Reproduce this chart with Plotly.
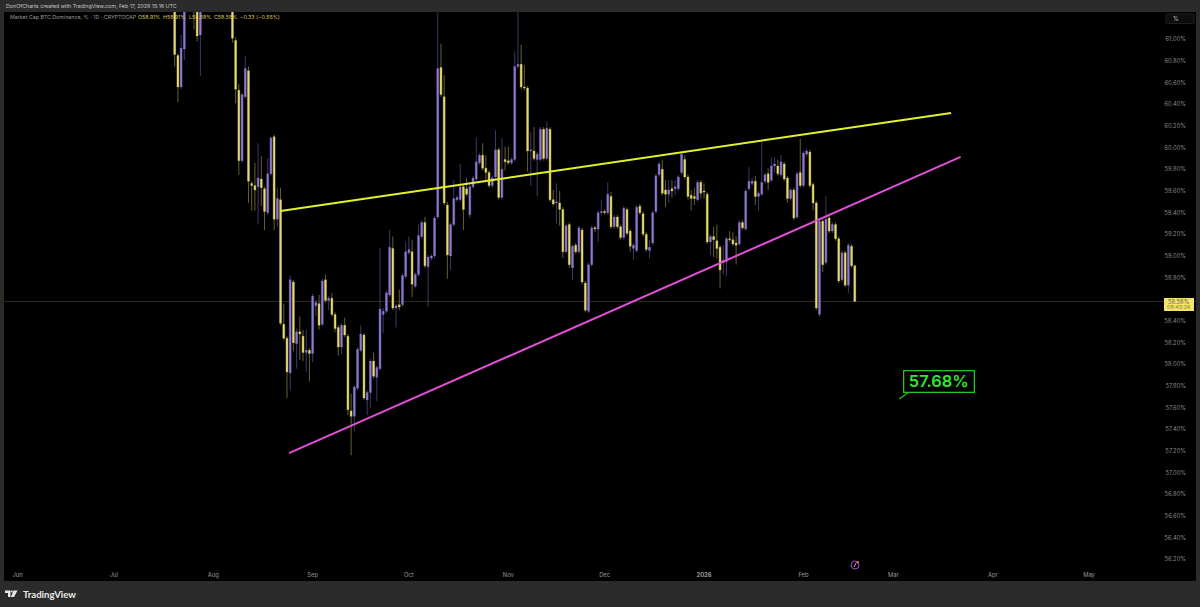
import pandas as pd
import plotly.graph_objects as go

# daily candles, oldest first, ending Feb 17 2026
opens = [61.45,60.85,60.56,60.91,61.3,61.5,61.6,61.3,61.04,61.35,
    61.5,61.65,61.8,61.9,61.85,61.75,61.7,61.6,61.45,60.99,
    60.53,59.88,60.47,60.71,59.67,59.65,59.64,59.71,59.62,59.40,
    59.76,60.10,59.34,59.52,58.37,58.24,57.92,58.76,58.19,58.30,
    58.26,58.11,58.13,58.10,58.54,58.56,58.37,58.78,58.59,58.61,
    58.46,58.34,58.16,58.36,58.26,57.57,57.52,57.78,58.13,58.27,
    57.67,57.74,58.03,57.88,57.96,58.46,58.49,58.64,59.07,58.52,
    58.55,58.55,58.81,59.03,59.04,58.72,58.83,59.18,59.31,58.90,
    58.98,59.00,59.36,60.74,60.47,59.47,59.00,59.29,59.52,59.52,
    59.64,59.62,59.38,59.64,59.71,59.86,59.93,59.81,59.77,59.65,
    59.73,59.98,59.54,59.89,59.88,59.86,59.89,60.75,60.77,60.56,
    60.55,59.97,59.97,59.89,59.89,60.17,59.90,60.17,59.52,59.49,
    59.49,59.43,59.04,59.29,58.89,59.10,59.04,59.24,58.75,58.49,
    58.92,59.26,59.25,59.40,59.41,59.40,59.55,59.27,59.36,59.27,
    59.17,59.43,59.23,59.07,59.05,59.46,59.39,59.20,59.05,59.12,
    59.41,59.75,59.80,59.61,59.57,59.62,59.62,59.62,59.77,59.89,
    59.73,59.56,59.55,59.52,59.68,59.60,59.57,59.13,59.18,59.14,
    59.08,58.94,58.95,59.16,59.15,59.12,59.11,59.31,59.25,59.62,
    59.67,59.69,59.55,59.57,59.69,59.76,59.70,59.83,59.83,59.75,
    59.85,59.72,59.53,59.61,59.36,59.77,59.65,59.94,59.96,59.66,
    59.49,58.46,59.32,58.94,59.35,59.23,59.29,59.16,58.78,59.03,
    58.73,59.09,58.91]
highs = [61.5,60.87,61.04,61.4,61.55,61.7,61.7,61.45,61.5,61.6,
    61.75,61.9,62.0,62.1,62.0,61.9,61.85,61.75,61.55,61.02,
    60.59,60.5,60.85,60.75,59.69,59.86,60.04,59.92,59.64,59.9,
    60.1,60.12,59.63,59.63,58.56,58.26,58.82,58.78,58.33,58.44,
    58.32,58.32,58.15,58.65,58.6,58.64,58.79,58.83,58.63,58.66,
    58.48,58.36,58.38,58.43,58.28,57.73,57.81,58.16,58.36,58.29,
    57.76,58.05,58.11,57.99,59.07,58.52,58.68,59.24,59.18,58.56,
    58.69,58.84,59.13,59.18,59.15,58.85,59.29,59.33,59.36,59.01,
    59.02,59.37,61.4,60.96,60.67,59.5,59.31,59.7,59.56,59.85,
    59.66,59.72,59.66,59.74,60.09,59.95,60.04,59.93,59.79,59.74,
    60.16,60.0,60.09,60.01,60.01,59.91,60.89,61.4,60.95,60.76,
    60.57,60.14,60.19,59.96,60.19,60.19,60.24,60.19,59.61,59.67,
    59.6,59.45,59.3,59.31,59.11,59.12,59.28,59.26,58.77,58.94,
    59.28,59.28,59.42,59.52,59.43,59.68,59.59,59.38,59.38,59.29,
    59.46,59.45,59.25,59.12,59.47,59.48,59.41,59.22,59.15,59.42,
    59.76,59.87,59.89,59.7,59.7,59.7,59.7,59.75,59.97,59.93,
    59.75,59.61,59.63,59.7,59.7,59.67,59.59,59.2,59.27,59.29,
    59.1,59.1,59.18,59.23,59.22,59.18,59.33,59.33,59.62,59.82,
    59.72,59.74,59.6,60.06,59.77,59.81,59.91,59.91,59.89,59.93,
    59.87,59.74,59.63,59.63,59.78,60.08,59.97,59.99,59.98,59.68,
    59.51,59.34,59.34,59.55,59.37,59.31,59.31,59.18,59.05,59.05,
    59.12,59.11,58.91]
lows = [60.75,60.42,60.54,60.81,61.28,61.4,61.09,60.98,60.66,61.3,
    61.4,61.55,61.7,61.8,61.7,61.6,61.55,61.4,60.97,60.41,
    59.75,59.86,60.45,59.49,59.42,59.42,59.29,59.46,59.24,59.38,
    59.74,59.24,59.27,58.36,58.22,57.69,57.76,58.12,57.96,58.04,
    58.03,57.93,57.84,58.02,58.45,58.32,58.35,58.57,58.5,58.44,
    58.30,58.08,58.09,58.25,57.53,57.16,57.38,57.76,58.11,57.67,
    57.53,57.60,57.87,57.66,57.94,58.29,58.47,58.62,58.50,58.34,
    58.5,58.53,58.79,59.01,58.62,58.70,58.81,59.16,58.89,58.53,
    58.96,58.98,59.34,60.47,59.47,58.79,58.87,59.27,59.50,59.50,
    59.24,59.55,59.35,59.62,59.69,59.84,59.79,59.68,59.63,59.63,
    59.71,59.52,59.52,59.79,59.84,59.84,59.87,60.73,60.54,60.53,
    59.78,59.65,59.88,59.55,59.87,59.88,59.88,59.50,59.46,59.30,
    59.28,58.98,59.02,58.89,58.78,59.02,59.02,58.74,58.48,58.47,
    58.90,59.22,59.13,59.38,59.38,59.38,59.25,59.25,59.25,59.15,
    59.15,59.19,59.04,58.96,59.03,59.38,59.18,59.04,58.98,59.10,
    59.39,59.73,59.56,59.45,59.49,59.54,59.56,59.60,59.75,59.71,
    59.52,59.42,59.47,59.50,59.53,59.53,59.11,59.01,58.99,58.98,
    58.70,58.83,58.81,59.13,59.09,58.92,59.09,59.24,59.23,59.60,
    59.65,59.47,59.42,59.55,59.67,59.61,59.68,59.77,59.74,59.73,
    59.69,59.49,59.51,59.33,59.34,59.63,59.63,59.92,59.63,59.42,
    58.50,58.44,58.85,58.92,59.21,59.21,59.14,58.75,58.76,58.71,
    58.66,58.89,58.58]
closes = [60.86,60.56,60.92,61.3,61.5,61.6,61.3,61.03,61.35,61.5,
    61.65,61.8,61.9,61.85,61.75,61.7,61.6,61.45,61.01,60.54,
    59.88,60.49,60.73,59.69,59.65,59.61,59.72,59.63,59.41,59.76,
    60.09,59.34,59.53,58.38,58.24,57.93,58.78,58.20,58.30,58.28,
    58.11,58.13,58.10,58.63,58.57,58.36,58.77,58.59,58.61,58.46,
    58.33,58.16,58.36,58.27,57.58,57.52,57.79,58.14,58.28,57.69,
    57.74,58.03,57.89,57.97,58.51,58.49,58.66,59.08,58.52,58.54,
    58.53,58.82,59.04,59.06,58.74,58.83,59.19,59.31,58.91,58.99,
    59.00,59.35,60.73,60.49,59.49,59.01,59.29,59.53,59.54,59.64,
    59.43,59.57,59.64,59.72,59.87,59.93,59.81,59.77,59.65,59.72,
    59.98,59.54,59.80,59.87,59.86,59.89,60.75,60.77,60.56,60.55,
    59.97,59.98,59.90,59.94,60.17,59.90,60.18,59.52,59.48,59.50,
    59.43,59.04,59.28,58.92,59.09,59.04,59.26,58.76,58.50,58.92,
    59.26,59.25,59.40,59.41,59.40,59.57,59.27,59.36,59.27,59.17,
    59.44,59.21,59.09,59.10,59.45,59.40,59.20,59.06,59.08,59.40,
    59.74,59.85,59.58,59.57,59.61,59.60,59.64,59.73,59.94,59.73,
    59.55,59.53,59.53,59.68,59.58,59.59,59.13,59.18,59.15,59.07,
    58.87,58.96,59.16,59.15,59.11,59.10,59.31,59.26,59.60,59.69,
    59.69,59.55,59.58,59.68,59.75,59.68,59.83,59.85,59.76,59.87,
    59.71,59.53,59.61,59.35,59.76,59.65,59.95,59.97,59.65,59.49,
    58.52,59.32,58.92,59.34,59.23,59.29,59.16,58.77,59.03,58.73,
    59.10,58.91,58.58]

month_ticks = ['2025-06-01','2025-07-01','2025-08-01','2025-09-01','2025-10-01','2025-11-01',
    '2025-12-01','2026-01-01','2026-02-01','2026-03-01','2026-04-01','2026-05-01']
month_labels = ['Jun','Jul','Aug','Sep','Oct','Nov','Dec','<b>2026</b>','Feb','Mar','Apr','May']
price_ticks = [61.0,60.8,60.6,60.4,60.2,60.0,59.8,59.6,59.4,59.2,59.0,58.8,58.4,58.2,58.0,
    57.8,57.6,57.4,57.2,57.0,56.8,56.6,56.4,56.2]
price_labels = ['%.2f%%' % p for p in price_ticks]

# drawn trend lines
resistance_x = ['2025-08-22', '2026-03-19']
resistance_y = [59.415, 60.32]
support_x = ['2025-08-24 15:00', '2026-03-22']
support_y = [57.18, 59.914]
target_x = '2026-03-03'
target_y = 57.68
last_price = 58.58

up_color = '#8f78cf'
down_color = '#e8da72'
up_wick = '#40376a'
down_wick = '#66602e'
frame = '#2b2b2b'
label_font = 'Inter'

dates = pd.date_range(end='2026-02-17', periods=len(closes), freq='D')
df = pd.DataFrame({'open': opens, 'high': highs, 'low': lows, 'close': closes}, index=dates)

def px(x):
    return x / 1200

def py(y):
    return 1 - y / 607

fig = go.Figure()
# wicks first, the bodies go over them in brighter colours
fig.add_trace(go.Candlestick(x=df.index, open=df['open'], high=df['high'], low=df['low'], close=df['close'],
    increasing=dict(line=dict(color=up_wick, width=1), fillcolor=up_wick),
    decreasing=dict(line=dict(color=down_wick, width=1), fillcolor=down_wick),
    whiskerwidth=0, hoverinfo='skip', showlegend=False))
fig.add_trace(go.Candlestick(x=df.index, open=df['open'], close=df['close'],
    high=df[['open', 'close']].max(axis=1), low=df[['open', 'close']].min(axis=1),
    increasing=dict(line=dict(color=up_color, width=0), fillcolor=up_color),
    decreasing=dict(line=dict(color=down_color, width=0), fillcolor=down_color),
    whiskerwidth=0, showlegend=False))
fig.add_trace(go.Scatter(x=resistance_x, y=resistance_y, mode='lines',
    line=dict(color='#e4f02c', width=2), showlegend=False))
fig.add_trace(go.Scatter(x=support_x, y=support_y, mode='lines',
    line=dict(color='#e24fd6', width=2), showlegend=False))

# last price line
fig.add_shape(type='line', xref='paper', yref='y', x0=0, x1=1, y0=last_price, y1=last_price,
    line=dict(color='#2e2b1a', width=1), layer='below')
# price label on the axis
fig.add_shape(type='rect', xref='paper', yref='paper', x0=px(1164), x1=px(1194), y0=py(311), y1=py(298),
    fillcolor='#f5e46c', line=dict(width=0))
# % button
fig.add_shape(type='rect', xref='paper', yref='paper', x0=px(1166), x1=px(1194), y0=py(23.5), y1=py(14),
    fillcolor='#0d0d0d', line=dict(color='#1e1e1e', width=1))
# indicator icon at the bottom
fig.add_shape(type='circle', xref='paper', yref='paper', x0=px(851), x1=px(859), y0=py(569), y1=py(561),
    fillcolor='#000000', line=dict(color='#9a4fd0', width=1))
fig.add_shape(type='circle', xref='paper', yref='paper', x0=px(856.5), x1=px(859), y0=py(563.5), y1=py(561),
    fillcolor='#e8734a', line=dict(width=0))
fig.add_shape(type='line', xref='paper', yref='paper', x0=px(854), x1=px(856), y0=py(567), y1=py(563),
    line=dict(color='#c79be8', width=1))
# TradingView logo
logo = 'M %f %f L %f %f L %f %f L %f %f L %f %f L %f %f Z' % (
    px(5), py(590.5), px(10.5), py(590.5), px(10.5), py(597), px(8), py(597), px(8), py(593), px(5), py(593))
logo_v = 'M %f %f L %f %f L %f %f L %f %f Z' % (
    px(13.5), py(590.5), px(17.5), py(590.5), px(14), py(597), px(11), py(597))
fig.add_shape(type='path', xref='paper', yref='paper', path=logo, fillcolor='#e8e8e8', line=dict(width=0))
fig.add_shape(type='path', xref='paper', yref='paper', path=logo_v, fillcolor='#e8e8e8', line=dict(width=0))
fig.add_shape(type='circle', xref='paper', yref='paper', x0=px(10.8), x1=px(12.8), y0=py(592.6), y1=py(590.6),
    fillcolor='#e8e8e8', line=dict(width=0))

def text_at(x, y, text, size, color, font=label_font, anchor='left'):
    fig.add_annotation(xref='paper', yref='paper', x=px(x), y=py(y), text=text, showarrow=False,
        xanchor=anchor, yanchor='middle', font=dict(family=font, size=size, color=color))

text_at(4, 6, 'DonOfCharts created with TradingView.com, Feb 17, 2026 15:16 UTC', 5.3, '#c4c4c4')
text_at(7.5, 17.5, 'Market Cap BTC Dominance, % · 1D · CRYPTOCAP', 5.3, '#9a9a9a')
text_at(136, 17.5, 'O58.91%', 5.3, '#d8c85c')
text_at(161, 17.5, 'H58.91%', 5.3, '#d8c85c')
text_at(187, 17.5, 'L58.58%', 5.3, '#d8c85c')
text_at(212, 17.5, 'C58.58%', 5.3, '#d8c85c')
text_at(238, 17.5, '−0.33 (−0.55%)', 5.3, '#d8c85c')
text_at(1171, 18.7, '%', 5.8, '#bdbdbd')
text_at(1179, 301.2, '58.58%', 5.8, '#6b6420', anchor='center')
text_at(1179, 307.2, '08:43:24', 5.4, '#8a8228', anchor='center')
text_at(20.5, 594, '<b>TradingView</b>', 9.6, '#e8e8e8', font='Lato')

# target price callout, box sits up and right of the price point
fig.add_annotation(x=target_x, y=target_y, text='57.68%', showarrow=False, xshift=39, yshift=17,
    bgcolor='#000000', bordercolor='#22c322', borderwidth=1.3, borderpad=1.5, width=66, height=17,
    font=dict(family='Inter', size=16.4, color='#2fe62f', weight=600))
fig.add_shape(type='line', xref='paper', yref='paper', x0=px(899.3), x1=px(908), y0=py(399), y1=py(392.7),
    line=dict(color='#22c322', width=1.3))

fig.update_layout(width=1200, height=607, margin=dict(l=0, r=0, t=0, b=0), paper_bgcolor=frame,
    plot_bgcolor='#000000', boxgap=0.2, showlegend=False, hovermode=False,
    xaxis=dict(type='date', domain=[px(4), px(1196)], range=['2025-05-27 19:00', '2026-06-03 08:40'],
        rangeslider=dict(visible=False), tickmode='array', tickvals=month_ticks, ticktext=month_labels,
        ticklabelposition='inside', ticks='', showgrid=False, zeroline=False, showline=False,
        tickfont=dict(family=label_font, size=5.8, color='#9a9a9a')),
    yaxis=dict(side='right', domain=[py(581), py(12)], range=[56.0, 61.252], tickmode='array',
        tickvals=price_ticks, ticktext=price_labels, ticklabelposition='inside', ticklabelstandoff=7,
        ticks='', showgrid=False, zeroline=False, showline=False,
        tickfont=dict(family=label_font, size=5.8, color='#8a8a8a')))

# the page's default body margin would push the figure 8px down and right
fig.write_html("out.html", config={'displayModeBar': False},
    post_script="document.body.style.margin='0';document.body.style.background='#2b2b2b';document.documentElement.style.overflow='hidden';")
